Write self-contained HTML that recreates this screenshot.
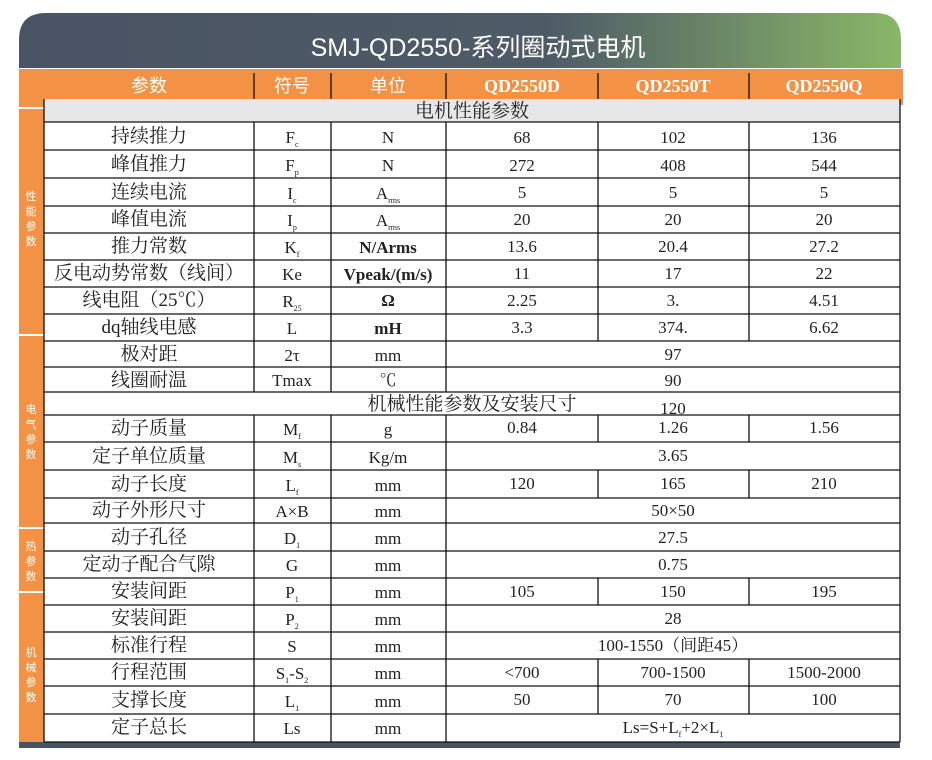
<!DOCTYPE html>
<html><head><meta charset="utf-8"><style>
html,body{margin:0;padding:0;background:#fff;}
svg{display:block;}
.c{font-family:"Liberation Serif","Noto Serif CJK SC","Noto Sans CJK SC",serif;font-size:19px;fill:#222;text-anchor:middle;}
.n{font-family:"Liberation Serif","Noto Serif CJK SC",serif;font-size:17px;fill:#222;text-anchor:middle;}
.b{font-weight:bold;}
.h{font-family:"Liberation Sans","Noto Sans CJK SC",sans-serif;font-size:18px;fill:#fff;text-anchor:middle;}
.hq{font-family:"Liberation Serif",serif;font-size:18px;fill:#fff;text-anchor:middle;font-weight:bold;}
.sd{font-family:"Noto Sans CJK SC",sans-serif;font-size:11px;fill:#fff;text-anchor:middle;}
line{stroke:#111;stroke-width:1.3;}
</style></head><body>
<svg width="932" height="760" xmlns="http://www.w3.org/2000/svg">
<defs><linearGradient id="g" x1="0" x2="1" y1="0" y2="0">
<stop offset="0" stop-color="#4a5363"/><stop offset="0.6" stop-color="#4e5b67"/><stop offset="1" stop-color="#8ab767"/></linearGradient></defs>
<path d="M19 68 L19 40 Q19 13 46 13 L875 13 Q901 13 901 40 L901 68 Z" fill="url(#g)"/>
<text x="478" y="56" font-family="'Liberation Sans','Noto Sans CJK SC',sans-serif" font-size="25" fill="#fff" text-anchor="middle">SMJ-QD2550-系列圈动式电机</text>
<rect x="19" y="69" width="884" height="3" fill="#f39244"/>
<rect x="19" y="72" width="25" height="673" fill="#f39244"/>
<rect x="44" y="72" width="859" height="27" fill="#f39244"/>
<rect x="899" y="99" width="4" height="6" fill="#f39244"/>
<rect x="19" y="107" width="25" height="2" fill="#fff"/>
<rect x="19" y="334" width="25" height="2" fill="#fff"/>
<rect x="19" y="527" width="25" height="2" fill="#fff"/>
<rect x="19" y="591" width="25" height="2" fill="#fff"/>
<g class="sd"><text x="31" y="200">性</text><text x="31" y="215">能</text><text x="31" y="230">参</text><text x="31" y="245">数</text>
<text x="31" y="413">电</text><text x="31" y="428">气</text><text x="31" y="443">参</text><text x="31" y="458">数</text>
<text x="31" y="550">热</text><text x="31" y="565">参</text><text x="31" y="580">数</text>
<text x="31" y="656">机</text><text x="31" y="671">械</text><text x="31" y="686">参</text><text x="31" y="701">数</text></g>
<rect x="44" y="99" width="856" height="23" fill="#e6e7e8"/>
<rect x="19" y="742" width="881" height="6" fill="#4a5361"/>
<text class="h" x="149" y="92">参数</text><text class="h" x="292" y="92">符号</text><text class="h" x="388" y="92">单位</text>
<text class="hq" x="522" y="92">QD2550D</text><text class="hq" x="673" y="92">QD2550T</text><text class="hq" x="824" y="92">QD2550Q</text>
<g stroke="#111">
<line x1="254" y1="73" x2="254" y2="99" stroke="#333"/><line x1="331" y1="73" x2="331" y2="99" stroke="#333"/><line x1="446" y1="73" x2="446" y2="99" stroke="#333"/><line x1="598" y1="73" x2="598" y2="99" stroke="#333"/><line x1="749" y1="73" x2="749" y2="99" stroke="#333"/>
<line x1="44" y1="99" x2="44" y2="742"/><line x1="900" y1="99" x2="900" y2="742"/>
<line x1="44" y1="122" x2="900" y2="122"/>
<line x1="254" y1="122" x2="254" y2="392"/><line x1="331" y1="122" x2="331" y2="392"/><line x1="446" y1="122" x2="446" y2="392"/>
<line x1="254" y1="415" x2="254" y2="742"/><line x1="331" y1="415" x2="331" y2="742"/><line x1="446" y1="415" x2="446" y2="742"/>
<line x1="598" y1="122" x2="598" y2="341"/><line x1="749" y1="122" x2="749" y2="341"/>
<line x1="598" y1="415" x2="598" y2="442"/><line x1="749" y1="415" x2="749" y2="442"/>
<line x1="598" y1="470" x2="598" y2="498"/><line x1="749" y1="470" x2="749" y2="498"/>
<line x1="598" y1="578" x2="598" y2="605"/><line x1="749" y1="578" x2="749" y2="605"/>
<line x1="598" y1="659" x2="598" y2="714"/><line x1="749" y1="659" x2="749" y2="714"/>
<line x1="44" y1="150" x2="900" y2="150"/><line x1="44" y1="178" x2="900" y2="178"/><line x1="44" y1="206" x2="900" y2="206"/><line x1="44" y1="233" x2="900" y2="233"/><line x1="44" y1="260" x2="900" y2="260"/><line x1="44" y1="287" x2="900" y2="287"/><line x1="44" y1="314" x2="900" y2="314"/><line x1="44" y1="341" x2="900" y2="341"/><line x1="44" y1="367" x2="900" y2="367"/><line x1="44" y1="392" x2="900" y2="392"/><line x1="44" y1="415" x2="900" y2="415"/><line x1="44" y1="442" x2="900" y2="442"/><line x1="44" y1="470" x2="900" y2="470"/><line x1="44" y1="498" x2="900" y2="498"/><line x1="44" y1="523" x2="900" y2="523"/><line x1="44" y1="551" x2="900" y2="551"/><line x1="44" y1="578" x2="900" y2="578"/><line x1="44" y1="605" x2="900" y2="605"/><line x1="44" y1="632" x2="900" y2="632"/><line x1="44" y1="659" x2="900" y2="659"/><line x1="44" y1="686" x2="900" y2="686"/><line x1="44" y1="714" x2="900" y2="714"/><line x1="44" y1="742" x2="900" y2="742"/>
</g>
<text class="c" x="472" y="117">电机性能参数</text>
<text class="c" x="472" y="410">机械性能参数及安装尺寸</text><text class="n" x="673" y="414">120</text>
<g class="c">
<text x="149" y="142">持续推力</text><text x="149" y="170">峰值推力</text><text x="149" y="198">连续电流</text><text x="149" y="225">峰值电流</text><text x="149" y="252">推力常数</text><text x="149" y="279">反电动势常数（线间）</text><text x="149" y="306">线电阻（25℃）</text><text x="149" y="333">dq轴线电感</text><text x="149" y="360">极对距</text><text x="149" y="386">线圈耐温</text>
<text x="149" y="434">动子质量</text><text x="149" y="462">定子单位质量</text><text x="149" y="490">动子长度</text><text x="149" y="516">动子外形尺寸</text><text x="149" y="543">动子孔径</text><text x="149" y="570">定动子配合气隙</text><text x="149" y="597">安装间距</text><text x="149" y="624">安装间距</text><text x="149" y="651">标准行程</text><text x="149" y="678">行程范围</text><text x="149" y="706">支撑长度</text><text x="149" y="733">定子总长</text>
</g>
<g class="n">
<text x="292" y="143">F<tspan font-size="8" dy="4">c</tspan></text>
<text x="292" y="171">F<tspan font-size="8" dy="4">p</tspan></text>
<text x="292" y="199">I<tspan font-size="8" dy="4">c</tspan></text>
<text x="292" y="226">I<tspan font-size="8" dy="4">p</tspan></text>
<text x="292" y="253">K<tspan font-size="8" dy="4">f</tspan></text>
<text x="292" y="280">Ke</text>
<text x="292" y="307">R<tspan font-size="8" dy="4">25</tspan></text>
<text x="292" y="334">L</text>
<text x="292" y="361">2τ</text>
<text x="292" y="386">Tmax</text>
<text x="292" y="435">M<tspan font-size="8" dy="4">f</tspan></text>
<text x="292" y="463">M<tspan font-size="8" dy="4">s</tspan></text>
<text x="292" y="491">L<tspan font-size="8" dy="4">f</tspan></text>
<text x="292" y="517">A×B</text>
<text x="292" y="544">D<tspan font-size="8" dy="4">1</tspan></text>
<text x="292" y="571">G</text>
<text x="292" y="598">P<tspan font-size="8" dy="4">1</tspan></text>
<text x="292" y="625">P<tspan font-size="8" dy="4">2</tspan></text>
<text x="292" y="652">S</text>
<text x="292" y="679">S<tspan font-size="8" dy="4">1</tspan><tspan dy="-4">-S</tspan><tspan font-size="8" dy="4">2</tspan></text>
<text x="292" y="707">L<tspan font-size="8" dy="4">1</tspan></text>
<text x="292" y="734">Ls</text>
<text x="388" y="143">N</text><text x="388" y="171">N</text>
<text x="388" y="199">A<tspan font-size="8" dy="4">rms</tspan></text>
<text x="388" y="226">A<tspan font-size="8" dy="4">rms</tspan></text>
<text x="388" y="253" class="b">N/Arms</text>
<text x="388" y="280" class="b">Vpeak/(m/s)</text>
<text x="388" y="306" class="b">Ω</text>
<text x="388" y="334" class="b">mH</text>
<text x="388" y="361">mm</text><text x="388" y="386">℃</text>
<text x="388" y="435">g</text><text x="388" y="463">Kg/m</text><text x="388" y="491">mm</text><text x="388" y="517">mm</text><text x="388" y="544">mm</text><text x="388" y="571">mm</text><text x="388" y="598">mm</text><text x="388" y="625">mm</text><text x="388" y="652">mm</text><text x="388" y="679">mm</text><text x="388" y="707">mm</text><text x="388" y="734">mm</text>
<text x="522" y="143">68</text><text x="673" y="143">102</text><text x="824" y="143">136</text>
<text x="522" y="171">272</text><text x="673" y="171">408</text><text x="824" y="171">544</text>
<text x="522" y="198">5</text><text x="673" y="198">5</text><text x="824" y="198">5</text>
<text x="522" y="225">20</text><text x="673" y="225">20</text><text x="824" y="225">20</text>
<text x="522" y="252">13.6</text><text x="673" y="252">20.4</text><text x="824" y="252">27.2</text>
<text x="522" y="279">11</text><text x="673" y="279">17</text><text x="824" y="279">22</text>
<text x="522" y="306">2.25</text><text x="673" y="306">3.</text><text x="824" y="306">4.51</text>
<text x="522" y="333">3.3</text><text x="673" y="333">374.</text><text x="824" y="333">6.62</text>
<text x="673" y="360">97</text><text x="673" y="386">90</text>
<text x="522" y="433">0.84</text><text x="673" y="433">1.26</text><text x="824" y="433">1.56</text>
<text x="673" y="461">3.65</text>
<text x="522" y="489">120</text><text x="673" y="489">165</text><text x="824" y="489">210</text>
<text x="673" y="516">50×50</text><text x="673" y="543">27.5</text><text x="673" y="570">0.75</text>
<text x="522" y="597">105</text><text x="673" y="597">150</text><text x="824" y="597">195</text>
<text x="673" y="624">28</text>
<text x="673" y="651">100-1550（间距45）</text>
<text x="522" y="678">&lt;700</text><text x="673" y="678">700-1500</text><text x="824" y="678">1500-2000</text>
<text x="522" y="705">50</text><text x="673" y="705">70</text><text x="824" y="705">100</text>
<text x="673" y="733">Ls=S+L<tspan font-size="8" dy="4">f</tspan><tspan dy="-4">+2×L</tspan><tspan font-size="8" dy="4">1</tspan></text>
</g>
</svg>
</body></html>
